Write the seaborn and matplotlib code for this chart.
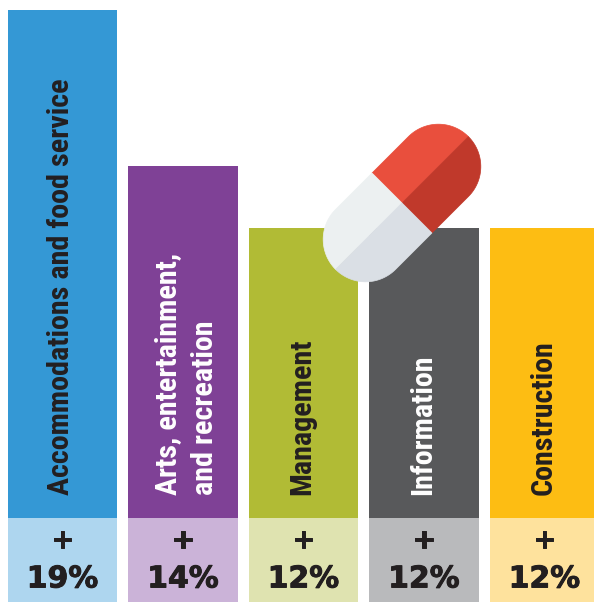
import numpy as np
import pandas as pd
import matplotlib
matplotlib.use("Agg")
import matplotlib.pyplot as plt
import matplotlib.patheffects as pe
from matplotlib import font_manager as fm
import seaborn as sns

# Chart values
sectors = ["Accommodations", "Arts", "Management", "Information", "Construction"]
growth = [19, 14, 12, 12, 12]
labels = [
    "Accommodations and food service",
    "Arts, entertainment,\nand recreation",
    "Management",
    "Information",
    "Construction",
]
percent_labels = ["19%", "14%", "12%", "12%", "12%"]

# Colours
bar_colors = ["#3498d5", "#7f4196", "#b1bb35", "#58595b", "#fdbd13"]
pale_colors = ["#aed6ef", "#cbb3d8", "#dfe3b0", "#b9babc", "#fee29d"]
label_colors = ["#231f20", "#ffffff", "#231f20", "#ffffff", "#231f20"]

# The pale strip at the foot of each bar has the same height everywhere
strip_height = 2.7
data = pd.DataFrame({"Sector": sectors, "Growth": growth, "Strip": [strip_height] * len(sectors)})

# Condensed font if this machine has one, otherwise a smaller Liberation Sans
installed = {f.name for f in fm.fontManager.ttflist}
if "Roboto Condensed" in installed:
    label_font, label_size = "Roboto Condensed", 21.7
else:
    label_font, label_size = "Liberation Sans", 17

sns.set_theme(style="white")
fig = plt.figure(figsize=(5.94, 6.02), dpi=100)
ax = fig.add_axes([0, 0, 1, 1])

# Bars
sns.barplot(data=data, x="Sector", y="Growth", hue="Sector", palette=bar_colors,
            width=0.905, saturation=1, legend=False, linewidth=0, ax=ax)
sns.barplot(data=data, x="Sector", y="Strip", hue="Sector", palette=pale_colors,
            width=0.905, saturation=1, legend=False, linewidth=0, ax=ax)
ax.set_xlim(-0.5187, 4.411)
ax.set_ylim(0, 19.33)
ax.axis("off")

# Labels inside the bars
heavy = [pe.withStroke(linewidth=0.7, foreground="#231f20")]
for i, label in enumerate(labels):
    ax.text(i + (0.03 if "\n" in label else -0.01), strip_height + 0.72, label, rotation=90,
            ha="center", va="bottom", multialignment="left", family=label_font,
            fontweight="bold", fontsize=label_size, color=label_colors[i], linespacing=1.42)
    ax.text(i, 1.98, "+", ha="center", va="center", family="DejaVu Sans",
            fontweight="bold", fontsize=20, color="#231f20", path_effects=heavy)
    ax.text(i, 0.74, percent_labels[i], ha="center", va="center", family="DejaVu Sans",
            fontweight="bold", fontsize=21.5, color="#231f20", path_effects=heavy)

# Pill drawn in pixel coordinates on top of the bars
pill_ax = fig.add_axes([0, 0, 1, 1])
pill_ax.set_xlim(0, 594)
pill_ax.set_ylim(602, 0)
pill_ax.axis("off")
pill_ax.patch.set_alpha(0)

center = np.array([402.0, 203.0])
along = np.array([1, -1]) / np.sqrt(2)
across = np.array([1, 1]) / np.sqrt(2)
radius = 42.4
cap_offset = 51.5


def pill_piece(end, side, color):
    # end: +1 red half, -1 white half. side: -1 upper left, +1 lower right
    angles = np.linspace(np.pi / 2, 0, 40)
    u = [0, 0] + list(cap_offset + radius * np.cos(angles))
    v = [0, radius] + list(radius * np.sin(angles))
    u = np.array(u) * end
    v = np.array(v) * side
    points = center + np.outer(u, along) + np.outer(v, across)
    # thin edge in the same colour hides the seam between pieces
    pill_ax.fill(points[:, 0], points[:, 1], facecolor=color, edgecolor=color, linewidth=0.5)


pill_piece(1, -1, "#e94f3d")
pill_piece(1, 1, "#c0392b")
pill_piece(-1, -1, "#ecf0f1")
pill_piece(-1, 1, "#dadfe5")

fig.savefig("out.png", dpi=100)
